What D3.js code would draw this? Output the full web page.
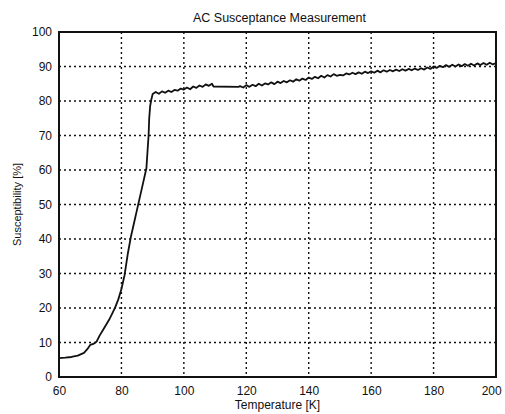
<!DOCTYPE html>
<html>
<head>
<meta charset="utf-8">
<script src="https://cdn.jsdelivr.net/npm/d3@7"></script>
<style>
  html, body { margin: 0; padding: 0; background: #fff; }
  svg { display: block; font-family: "Liberation Sans", Arial, sans-serif; }
</style>
</head>
<body>
<div id="chart"></div>
<script>
// temperature [K] and susceptibility [%]
const temps = [
  60, 62, 64, 66, 68, 69, 70, 71, 72, 73, 74, 75, 76, 77, 78, 79, 80, 81, 82, 83, 84, 85, 86, 87, 88,
  88.4, 88.7, 88.9, 89.2, 89.6, 90, 90.5,
  91, 92, 93, 94, 95, 96, 97, 98, 99, 100, 101, 102, 103, 104, 105, 106, 107, 108, 109, 109.5,
  117.5,
  118, 119, 120, 121, 122, 123, 124, 125, 126, 127, 128, 129, 130, 131, 132, 133, 134, 135, 136, 137,
  138, 139, 140, 141, 142, 143, 144, 145, 146, 147, 148, 149, 150, 151, 152, 153, 154, 155, 156, 157,
  158, 159, 160, 161, 162, 163, 164, 165, 166, 167, 168, 169, 170, 171, 172, 173, 174, 175, 176, 177,
  178, 179, 180, 181, 182, 183, 184, 185, 186, 187, 188, 189, 190, 191, 192, 193, 194, 195, 196, 197,
  198, 199, 200
];
const suscept = [
  5.5, 5.6, 5.8, 6.2, 7.0, 8.0, 9.3, 9.6, 10.2, 12.0, 13.5, 15.0, 16.5, 18.3, 20.2, 22.5, 25.5, 29.5, 35.5, 40.5, 44.5, 48.5, 52.5, 56.5, 60.5,
  66, 70, 75, 78.5, 80.5, 82, 82.3,
  82.6, 82.1, 82.8, 82.4, 83.0, 82.6, 83.2, 83.0, 83.6, 83.3, 83.9, 83.4, 84.2, 83.8, 84.5, 84.1, 84.8, 84.4, 85.0, 84.2,
  84.1,
  84.3, 83.9, 84.6, 84.1, 84.7, 84.3, 85.0, 84.5, 85.1, 84.8, 85.4, 84.9, 85.6, 85.2, 85.8, 85.4, 86.0, 85.6, 86.3, 85.9,
  86.5, 86.1, 86.8, 86.4, 87.0, 86.6, 87.3, 86.8, 87.5, 87.1, 87.8, 87.3, 87.6, 87.4, 88.0, 87.7, 88.2, 87.8, 88.3, 87.9,
  88.5, 88.1, 88.6, 88.2, 88.8, 88.3, 88.9, 88.5, 89.0, 88.6, 89.1, 88.7, 89.2, 88.8, 89.3, 88.9, 89.4, 89.0, 89.5, 89.1,
  89.7, 89.3, 90.0, 89.6, 90.2, 89.8, 90.4, 89.9, 90.5, 90.0, 90.6, 90.1, 90.7, 90.2, 90.8, 90.3, 90.9, 90.4, 91.0, 90.5,
  91.1, 90.6, 91.0
];
const xTicks = [60, 80, 100, 120, 140, 160, 180, 200];
const yTicks = [0, 10, 20, 30, 40, 50, 60, 70, 80, 90, 100];

const width = 505, height = 414;
const margin = { top: 32, right: 9, bottom: 37, left: 59 };
const iw = width - margin.left - margin.right;
const ih = height - margin.top - margin.bottom;

const svg = d3.select("#chart").append("svg")
  .attr("width", width)
  .attr("height", height);

const g = svg.append("g").attr("transform", `translate(${margin.left},${margin.top})`);

const x = d3.scaleLinear().domain([60, 200]).range([0, iw]);
const y = d3.scaleLinear().domain([0, 100]).range([ih, 0]);

// dotted grid
g.append("g")
  .selectAll("line")
  .data(xTicks.slice(1, -1))
  .join("line")
  .attr("x1", d => x(d)).attr("x2", d => x(d))
  .attr("y1", 0).attr("y2", ih)
  .attr("stroke", "#111")
  .attr("stroke-width", 1.4)
  .attr("stroke-dasharray", "2,3");

g.append("g")
  .selectAll("line")
  .data(yTicks.slice(1, -1))
  .join("line")
  .attr("x1", 0).attr("x2", iw)
  .attr("y1", d => y(d)).attr("y2", d => y(d))
  .attr("stroke", "#111")
  .attr("stroke-width", 1.4)
  .attr("stroke-dasharray", "2,3");

// axes
const xAxis = g.append("g")
  .attr("transform", `translate(0,${ih})`)
  .call(d3.axisBottom(x).tickValues(xTicks).tickSize(0).tickPadding(9));
const yAxis = g.append("g")
  .call(d3.axisLeft(y).tickValues(yTicks).tickSize(0).tickPadding(7));

[xAxis, yAxis].forEach(a => {
  a.select(".domain").remove();
  a.selectAll("text")
    .attr("font-family", "'Liberation Sans', Arial, sans-serif")
    .attr("font-size", 12)
    .attr("fill", "#111");
});
// keep the last x label inside the window
xAxis.selectAll(".tick text").filter(d => d === 200).attr("dx", "-0.4em");

// data line
const pts = temps.map((t, i) => [t, suscept[i]]);
g.append("path")
  .datum(pts)
  .attr("fill", "none")
  .attr("stroke", "#111")
  .attr("stroke-width", 1.8)
  .attr("stroke-linejoin", "round")
  .attr("d", d3.line().x(d => x(d[0])).y(d => y(d[1])));

// frame
g.append("rect")
  .attr("width", iw).attr("height", ih)
  .attr("fill", "none")
  .attr("stroke", "#111")
  .attr("stroke-width", 2);

// labels
svg.append("text")
  .attr("x", margin.left + iw / 2 + 2)
  .attr("y", 22)
  .attr("text-anchor", "middle")
  .attr("font-size", 12.5)
  .attr("fill", "#111")
  .text("AC Susceptance Measurement");

svg.append("text")
  .attr("x", margin.left + iw / 2)
  .attr("y", 409)
  .attr("text-anchor", "middle")
  .attr("font-size", 12)
  .attr("fill", "#111")
  .text("Temperature [K]");

svg.append("text")
  .attr("transform", `translate(21,${margin.top + ih / 2}) rotate(-90)`)
  .attr("text-anchor", "middle")
  .attr("font-size", 11)
  .attr("fill", "#111")
  .text("Susceptibility [%]");
</script>
</body>
</html>
